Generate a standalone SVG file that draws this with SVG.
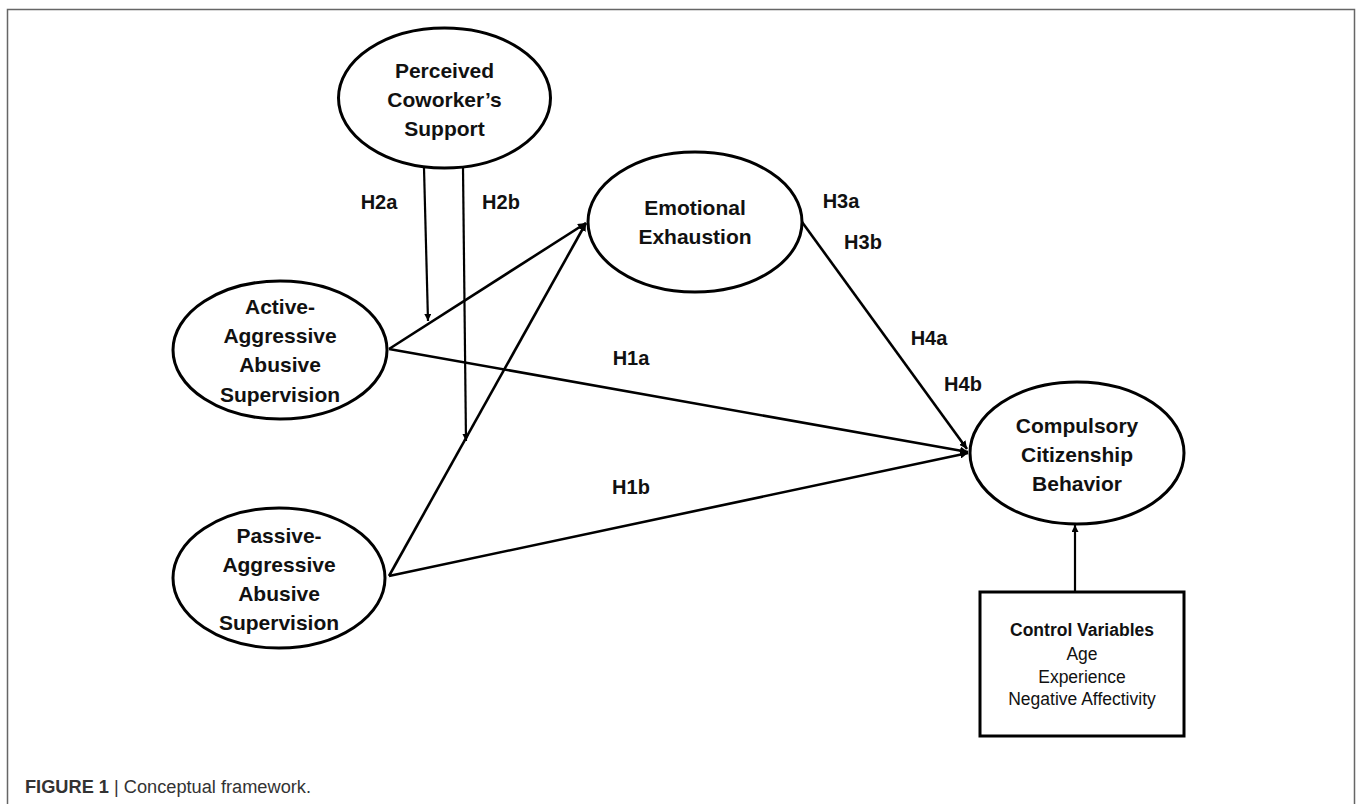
<svg xmlns="http://www.w3.org/2000/svg" width="1357" height="804" viewBox="0 0 1357 804">
<defs>
<style>
.node ellipse{fill:#fff;stroke:#000;stroke-width:3}
.node text{font-family:"Liberation Sans",Arial,sans-serif;font-weight:bold;font-size:21px;fill:#111;text-anchor:middle;dominant-baseline:central}
.lbl{font-family:"Liberation Sans",Arial,sans-serif;font-weight:bold;font-size:20px;fill:#111;text-anchor:middle;dominant-baseline:central}
.edge{stroke:#000;stroke-width:2.6;fill:none}
.thin{stroke:#000;stroke-width:2.2;fill:none}
.box text{font-family:"Liberation Sans",Arial,sans-serif;font-size:17.5px;fill:#111;text-anchor:middle;dominant-baseline:central}
</style>
<marker id="ah" viewBox="0 0 10 10" refX="10" refY="5" markerWidth="8" markerHeight="8" markerUnits="userSpaceOnUse" orient="auto">
<path d="M0,0 L10,5 L0,10 z" fill="#000"/>
</marker>
<marker id="ahs" viewBox="0 0 10 10" refX="10" refY="5" markerWidth="7" markerHeight="7" markerUnits="userSpaceOnUse" orient="auto">
<path d="M0,0 L10,5 L0,10 z" fill="#000"/>
</marker>
</defs>
<rect x="0" y="0" width="1357" height="804" fill="#fff"/>
<path d="M7.5,812 V9.5 H1354.5 V812" fill="none" stroke="#666" stroke-width="1.5"/>

<g id="connectors">
<line class="edge" x1="389" y1="349" x2="586" y2="223" marker-end="url(#ah)"/>
<line class="edge" x1="389" y1="576" x2="586" y2="223" marker-end="url(#ah)"/>
<line class="edge" x1="389" y1="349" x2="968" y2="452" marker-end="url(#ah)"/>
<line class="edge" x1="389" y1="576" x2="968" y2="453" marker-end="url(#ah)"/>
<line class="edge" x1="802" y1="222" x2="967" y2="449" marker-end="url(#ah)"/>
<line class="thin" x1="424" y1="168" x2="428" y2="321" marker-end="url(#ahs)"/>
<line class="thin" x1="463" y1="168" x2="466" y2="441" marker-end="url(#ahs)"/>
<line class="thin" x1="1075" y1="591" x2="1075" y2="525" marker-end="url(#ahs)"/>
<text class="lbl" x="379" y="202">H2a</text>
<text class="lbl" x="501" y="202">H2b</text>
<text class="lbl" x="841" y="201">H3a</text>
<text class="lbl" x="863" y="242">H3b</text>
<text class="lbl" x="929" y="338">H4a</text>
<text class="lbl" x="963" y="384">H4b</text>
<text class="lbl" x="631" y="358">H1a</text>
<text class="lbl" x="631" y="487">H1b</text>
</g>

<g id="perceived" class="node">
<ellipse cx="444.5" cy="98" rx="106" ry="70"/>
<text x="444.5" y="70">Perceived</text>
<text x="444.5" y="99">Coworker’s</text>
<text x="444.5" y="128">Support</text>
</g>

<g id="emotional" class="node">
<ellipse cx="695" cy="222" rx="107" ry="70"/>
<text x="695" y="207">Emotional</text>
<text x="695" y="236">Exhaustion</text>
</g>

<g id="active" class="node">
<ellipse cx="280" cy="350" rx="107" ry="69"/>
<text x="280" y="306">Active-</text>
<text x="280" y="335">Aggressive</text>
<text x="280" y="364">Abusive</text>
<text x="280" y="394">Supervision</text>
</g>

<g id="passive" class="node">
<ellipse cx="279" cy="578" rx="106" ry="70"/>
<text x="279" y="535">Passive-</text>
<text x="279" y="564">Aggressive</text>
<text x="279" y="593">Abusive</text>
<text x="279" y="622">Supervision</text>
</g>

<g id="compulsory" class="node">
<ellipse cx="1077" cy="453" rx="107" ry="71"/>
<text x="1077" y="425">Compulsory</text>
<text x="1077" y="454">Citizenship</text>
<text x="1077" y="483">Behavior</text>
</g>

<g id="control" class="box">
<rect x="980" y="592" width="204" height="144" fill="#fff" stroke="#000" stroke-width="3"/>
<text x="1082" y="630" font-weight="bold">Control Variables</text>
<text x="1082" y="654">Age</text>
<text x="1082" y="677">Experience</text>
<text x="1082" y="699">Negative Affectivity</text>
</g>

<text x="25" y="793" font-family="'Liberation Sans',Arial,sans-serif" font-size="18" fill="#333" textLength="286" lengthAdjust="spacingAndGlyphs"><tspan font-weight="bold">FIGURE 1</tspan> | Conceptual framework.</text>
</svg>
